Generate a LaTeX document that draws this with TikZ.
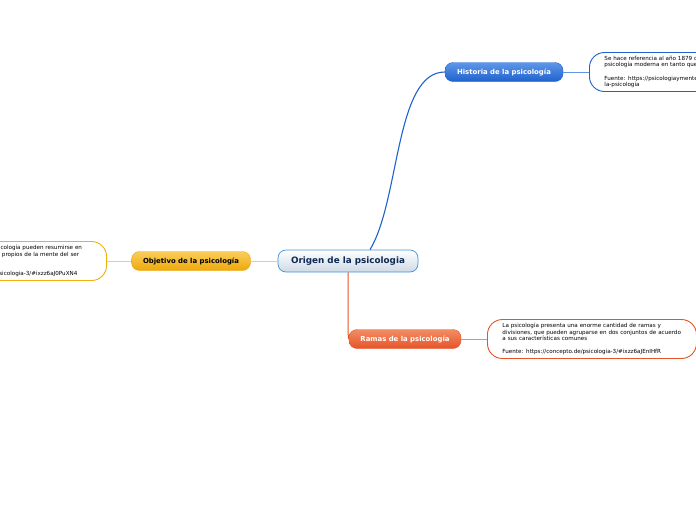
\documentclass[tikz,border=0pt]{standalone}
\usepackage{fontspec}
\setmainfont{DejaVu Sans}
\usepackage{tikz}
\usetikzlibrary{positioning,calc}
\definecolor{histblue}{RGB}{31,98,206}
\definecolor{histlight}{RGB}{95,150,232}
\definecolor{objorange}{RGB}{238,168,12}
\definecolor{objlight}{RGB}{250,206,90}
\definecolor{ramred}{RGB}{230,84,40}
\definecolor{ramlight}{RGB}{242,140,100}
\definecolor{rootblue}{RGB}{64,146,214}
\definecolor{rootnavy}{RGB}{14,40,84}
\definecolor{rootgray}{RGB}{206,218,230}

\begin{document}
\begin{tikzpicture}[x=1pt, y=-1pt,
    topic/.style={rectangle, rounded corners=8pt, minimum height=19pt,
                  inner sep=0pt, font=\fontsize{6.9}{8}\selectfont\bfseries},
    note/.style={rectangle, rounded corners=15pt, line width=0.9pt, fill=white,
                 minimum height=39pt, inner xsep=15pt, inner ysep=2pt, align=left,
                 font=\fontsize{5.6}{6.6}\selectfont},
    link/.style={line width=0.5pt}
]
    \useasboundingbox (0,0) rectangle (696,520);

    % Central topic
    \node[rectangle, rounded corners=8pt, draw=rootblue, line width=0.7pt,
          top color=white, bottom color=rootgray, minimum width=140pt,
          minimum height=22pt, text=rootnavy,
          font=\fontsize{8.8}{10}\selectfont\bfseries] (origen) at (348,261) {Origen de la psicologia};

    % Branch 1: historia
    \node[topic, draw=histblue, top color=histlight, bottom color=histblue,
          text=white, minimum width=118pt] (historia) at (504,72) {Historia de la psicología};
    \node[note, draw=histblue, anchor=west, text width=175pt] (histnote) at (589,72)
        {Se hace referencia al año 1879 como el inicio de la\\
         psicología moderna en tanto que disciplina\\[6.6pt]
         Fuente: https://psicologiaymente.com/psicologia/historia-\\
         la-psicologia};

    % Branch 2: objetivo
    \node[note, draw=objorange!90!yellow, anchor=east, text width=176pt] (objnote) at (107,261)
        {Los objetivos básicos de la psicología pueden resumirse en\\
         comprender bien los procesos propios de la mente del ser\\
         humano\\[6.6pt]
         Fuente: https://concepto.de/psicologia-3/\#ixzz6aJ0PuXN4};
    \node[topic, draw=objorange, top color=objlight, bottom color=objorange,
          text=black, minimum width=119pt] (objetivo) at (191,261) {Objetivo de la psicología};

    % Branch 3: ramas
    \node[topic, draw=ramred, top color=ramlight, bottom color=ramred,
          text=white, minimum width=112pt] (ramas) at (405,339) {Ramas de la psicología};
    \node[note, draw=ramred, anchor=west, text width=179pt] (ramnote) at (487,339)
        {La psicología presenta una enorme cantidad de ramas y\\
         divisiones, que pueden agruparse en dos conjuntos de acuerdo\\
         a sus características comunes\\[6.6pt]
         Fuente: https://concepto.de/psicologia-3/\#ixzz6aJEnIHfR};

    % Connectors
    \draw[histblue, line width=1.1pt] ([xshift=22pt]origen.north)
        .. controls (400,200) and (395,72) .. (historia.west);
    \draw[link, histlight] (historia.east) -- (histnote.west);
    \draw[link, objlight] (origen.west) -- (objetivo.east);
    \draw[link, objlight] (objetivo.west) -- (objnote.east);
    \draw[ramred, line width=1pt] (origen.south)
        .. controls (348,332) and (348,339) .. (ramas.west);
    \draw[link, ramlight] (ramas.east) -- (ramnote.west);
\end{tikzpicture}
\end{document}
